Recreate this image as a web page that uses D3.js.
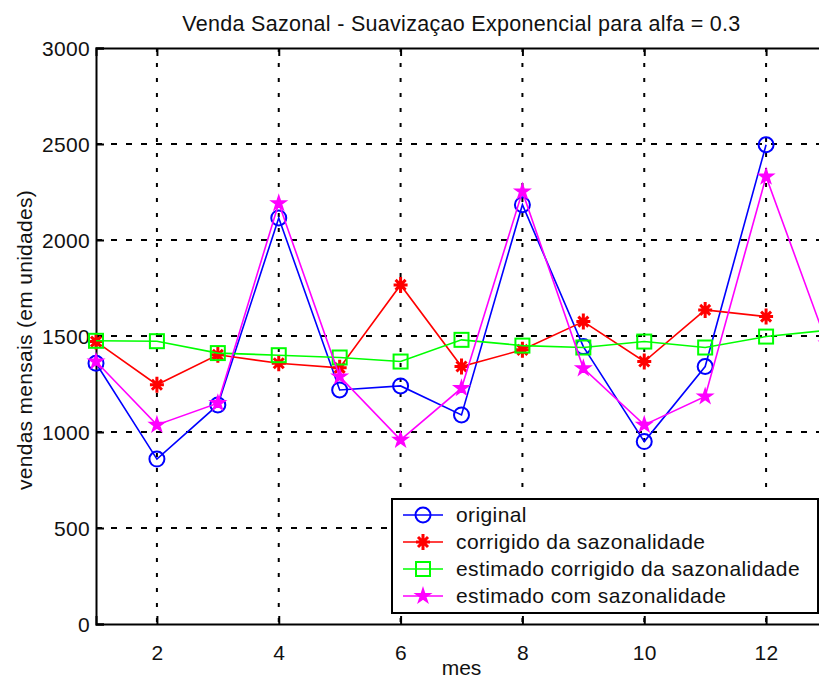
<!DOCTYPE html>
<html>
<head>
<meta charset="utf-8">
<script src="https://cdn.jsdelivr.net/npm/d3@7"></script>
<style>
  body { margin: 0; background: #fff; overflow: hidden; }
  svg { display: block; font-family: "Liberation Sans", Arial, sans-serif; }
</style>
</head>
<body>
<div id="chart"></div>
<script>
// data
var months = [1, 2, 3, 4, 5, 6, 7, 8, 9, 10, 11, 12, 13];
var original = [1358, 859, 1141, 2115, 1219, 1240, 1089, 2184, 1445, 950, 1341, 2496];
var corrigido = [1471, 1246, 1402, 1358, 1334, 1766, 1341, 1428, 1575, 1367, 1636, 1601];
var estimadoCorrigido = [1475, 1473, 1411, 1400, 1388, 1367, 1480, 1450, 1440, 1471, 1440, 1497, 1530];
var estimadoSazonal = [1367, 1037, 1150, 2191, 1289, 959, 1228, 2252, 1332, 1037, 1185, 2330, 1460];
var xTicks = [2, 4, 6, 8, 10, 12];
var yTicks = [0, 500, 1000, 1500, 2000, 2500, 3000];
var legendLabels = ["original", "corrigido da sazonalidade", "estimado corrigido da sazonalidade", "estimado com sazonalidade"];

var svgW = 819, svgH = 679;
var margin = { top: 48, left: 96 };
var width = 731, height = 576;

var svg = d3.select("#chart").append("svg")
    .attr("width", svgW)
    .attr("height", svgH);

var x = d3.scaleLinear().domain([1, 13]).range([0, width]);
var y = d3.scaleLinear().domain([0, 3000]).range([height, 0]);

var g = svg.append("g")
    .attr("transform", "translate(" + margin.left + "," + margin.top + ")");

// grid
g.append("g").selectAll("line")
    .data(xTicks)
    .enter().append("line")
    .attr("x1", function(d) { return x(d); })
    .attr("x2", function(d) { return x(d); })
    .attr("y1", 0)
    .attr("y2", height)
    .attr("stroke", "#000")
    .attr("stroke-width", 2)
    .attr("stroke-dasharray", "4,11");

g.append("g").selectAll("line")
    .data(yTicks.slice(1, -1))
    .enter().append("line")
    .attr("x1", 0)
    .attr("x2", width)
    .attr("y1", function(d) { return y(d); })
    .attr("y2", function(d) { return y(d); })
    .attr("stroke", "#000")
    .attr("stroke-width", 2)
    .attr("stroke-dasharray", "6,9");

// axes (matlab style: ticks inside)
var xAxis = d3.axisBottom(x).tickValues(xTicks).tickSize(-8).tickPadding(14);
var xAxisTop = d3.axisTop(x).tickValues(xTicks).tickSize(-8).tickFormat("");
var yAxis = d3.axisLeft(y).tickValues(yTicks).tickSize(-8).tickPadding(14).tickFormat(d3.format("d"));

var gx = g.append("g")
    .attr("transform", "translate(0," + height + ")")
    .call(xAxis);
var gxt = g.append("g").call(xAxisTop);
var gy = g.append("g").call(yAxis);

[gx, gxt, gy].forEach(function(a) {
    a.select(".domain").attr("stroke", "#000").attr("stroke-width", 2);
    a.selectAll(".tick line").attr("stroke", "#000").attr("stroke-width", 2);
    a.selectAll(".tick text")
        .attr("fill", "#111")
        .style("font-size", "21px")
        .style("letter-spacing", "0.3px")
        .style("font-family", "Liberation Sans, Arial, sans-serif");
});
gx.selectAll(".tick text").attr("dy", "1.05em");
gy.selectAll(".tick text").attr("dy", "0.36em").attr("x", -6);

// series
var series = [
    { name: legendLabels[0], values: original, color: "#0000ff", marker: "circle" },
    { name: legendLabels[1], values: corrigido, color: "#ff0000", marker: "asterisk" },
    { name: legendLabels[2], values: estimadoCorrigido, color: "#00ff00", marker: "square" },
    { name: legendLabels[3], values: estimadoSazonal, color: "#ff00ff", marker: "star" }
];

var line = d3.line()
    .x(function(d, i) { return x(months[i]); })
    .y(function(d) { return y(d); });

var plot = g.append("g");

function drawMarker(sel, type, color) {
    if (type === "circle") {
        sel.append("circle").attr("r", 7.5)
            .attr("fill", "none").attr("stroke", color).attr("stroke-width", 2);
    } else if (type === "square") {
        sel.append("rect").attr("x", -7).attr("y", -7).attr("width", 14).attr("height", 14)
            .attr("fill", "none").attr("stroke", color).attr("stroke-width", 2);
    } else if (type === "asterisk") {
        sel.append("path")
            .attr("d", "M-7,0L7,0M0,-8L0,8M-5,-5L5,5M-5,5L5,-5")
            .attr("fill", "none").attr("stroke", color).attr("stroke-width", 3);
    } else if (type === "star") {
        sel.append("path")
            .attr("d", d3.symbol().type(d3.symbolStar).size(65))
            .attr("fill", color).attr("stroke", color).attr("stroke-width", 1.5);
    }
}

series.forEach(function(s) {
    plot.append("path")
        .datum(s.values)
        .attr("fill", "none")
        .attr("stroke", s.color)
        .attr("stroke-width", 1.6)
        .attr("d", line);

    plot.selectAll(null)
        .data(s.values)
        .enter().append("g")
        .attr("transform", function(d, i) { return "translate(" + x(months[i]) + "," + y(d) + ")"; })
        .each(function() { drawMarker(d3.select(this), s.marker, s.color); });
});

// title and labels
svg.append("text")
    .attr("x", margin.left + width / 2)
    .attr("y", 31)
    .attr("text-anchor", "middle")
    .attr("fill", "#111")
    .style("font-size", "21.5px")
    .style("letter-spacing", "0.3px")
    .text("Venda Sazonal - Suavizaçao Exponencial para alfa = 0.3");

svg.append("text")
    .attr("x", margin.left + width / 2)
    .attr("y", 675)
    .attr("text-anchor", "middle")
    .attr("fill", "#111")
    .style("font-size", "21px")
    .text("mes");

svg.append("text")
    .attr("transform", "translate(32," + (margin.top + height / 2 + 4) + ") rotate(-90)")
    .attr("text-anchor", "middle")
    .attr("fill", "#111")
    .style("font-size", "21px")
    .style("letter-spacing", "0.3px")
    .text("vendas mensais (em unidades)");

// legend
var legend = svg.append("g").attr("transform", "translate(392,499)");
legend.append("rect")
    .attr("width", 426)
    .attr("height", 114)
    .attr("fill", "#fff")
    .attr("stroke", "#000")
    .attr("stroke-width", 2);

series.forEach(function(s, i) {
    var row = legend.append("g").attr("transform", "translate(0," + (16 + i * 27) + ")");
    row.append("line")
        .attr("x1", 11).attr("x2", 51)
        .attr("stroke", s.color).attr("stroke-width", 1.6);
    var m = row.append("g").attr("transform", "translate(31,0)");
    drawMarker(m, s.marker, s.color);
    row.append("text")
        .attr("x", 64)
        .attr("y", 7)
        .attr("fill", "#111")
        .style("font-size", "21px")
        .style("letter-spacing", "0.4px")
        .text(s.name);
});
</script>
</body>
</html>
